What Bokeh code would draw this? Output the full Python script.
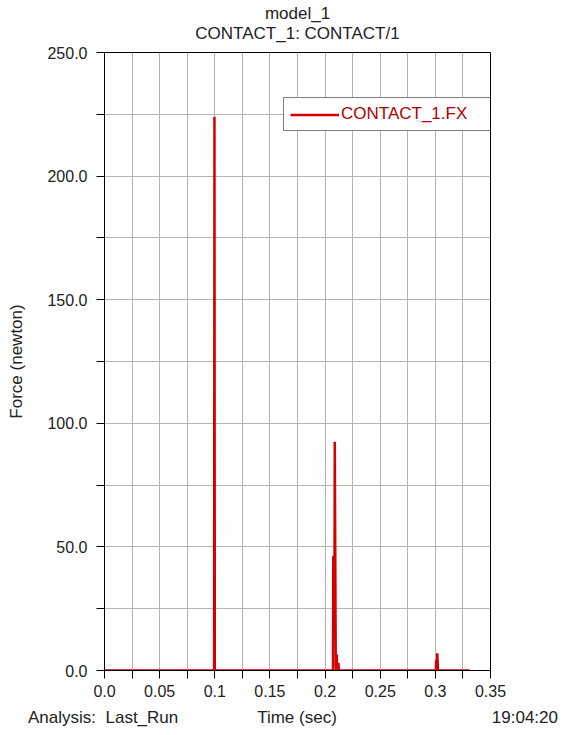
from bokeh.plotting import figure
from bokeh.models import Range1d, FixedTicker, Legend, LegendItem, Title, Div
from bokeh.layouts import column
from bokeh.embed import file_html
from bokeh.resources import INLINE

# ---- data ----
time = [0.0, 0.0994, 0.0997, 0.1000, 0.2072, 0.2074, 0.2086, 0.2088, 0.2097,
        0.2102, 0.2106, 0.2110, 0.2118, 0.2121, 0.2125, 0.3005, 0.3007,
        0.3015, 0.3017, 0.3024, 0.331]
force = [0, 0, 224, 0, 0, 46, 46, 92.5, 0, 0, 6.5, 0, 0, 3, 0, 0, 4, 4, 7, 0, 0]

x_ticks = [0.0, 0.05, 0.1, 0.15, 0.2, 0.25, 0.3, 0.35]
x_tick_labels = ["0.0", "0.05", "0.1", "0.15", "0.2", "0.25", "0.3", "0.35"]
x_minor = [0.025, 0.075, 0.125, 0.175, 0.225, 0.275, 0.325]
y_ticks = [0, 50, 100, 150, 200, 250]
y_tick_labels = ["0.0", "50.0", "100.0", "150.0", "200.0", "250.0"]
y_minor = [25, 75, 125, 175, 225]

footer_texts = ["Analysis:  Last_Run", "Time (sec)", "19:04:20"]

FONT = "Liberation Sans"
RED = "#d40000"
TXT = "#222222"

p = figure(width=560, height=706, output_backend="svg", toolbar_location=None,
           x_range=Range1d(0, 0.35), y_range=Range1d(0, 250),
           min_border_left=104, min_border_right=70, min_border_top=52,
           min_border_bottom=36)

p.title.text = "model_1"
p.title.align = "center"
p.title.text_font = FONT
p.title.text_font_size = "17px"
p.title.text_font_style = "normal"
p.title.text_color = TXT
p.title.standoff = -22
p.add_layout(Title(text="CONTACT_1: CONTACT/1", align="center", text_font=FONT,
                   text_font_size="17px", text_font_style="normal",
                   text_color=TXT, standoff=20), "above")

p.outline_line_color = "black"
p.outline_line_width = 1
p.background_fill_color = "white"
p.border_fill_color = "white"

for ax, ticks, minor, labels in ((p.xaxis[0], x_ticks, x_minor, x_tick_labels),
                                 (p.yaxis[0], y_ticks, y_minor, y_tick_labels)):
    ax.ticker = FixedTicker(ticks=ticks, minor_ticks=minor)
    ax.major_label_overrides = {t: l for t, l in zip(ticks, labels)}
    ax.major_tick_out = 8
    ax.major_tick_in = 0
    ax.minor_tick_out = 8
    ax.minor_tick_in = 0
    ax.axis_line_color = "black"
    ax.major_tick_line_color = "black"
    ax.minor_tick_line_color = "black"
    ax.major_label_text_font = FONT
    ax.major_label_text_font_size = "16px"
    ax.major_label_text_color = TXT

p.xaxis.major_label_standoff = 6
p.yaxis.major_label_standoff = 9
p.yaxis.axis_label = "Force (newton)"
p.yaxis.axis_label_text_font = FONT
p.yaxis.axis_label_text_font_size = "17px"
p.yaxis.axis_label_text_font_style = "normal"
p.yaxis.axis_label_text_color = TXT
p.yaxis.axis_label_standoff = 18

all_x = sorted(x_ticks + x_minor)
all_y = sorted(y_ticks + y_minor)
p.xgrid.ticker = FixedTicker(ticks=all_x)
p.ygrid.ticker = FixedTicker(ticks=all_y)
for g in (p.xgrid[0], p.ygrid[0]):
    g.grid_line_color = "#b4b4b4"
    g.grid_line_width = 1

r = p.line(time, force, line_color=RED, line_width=2.5)

legend = Legend(items=[LegendItem(label="CONTACT_1.FX", renderers=[r])],
                location=(179, 539))
legend.border_line_color = "black"
legend.border_line_width = 1
legend.background_fill_color = "white"
legend.background_fill_alpha = 1
legend.label_text_font = FONT
legend.label_text_font_size = "17px"
legend.label_text_color = "#b00000"
legend.glyph_width = 49
legend.glyph_height = 15
legend.label_height = 15
legend.label_width = 145
legend.label_standoff = 2
legend.padding = 6
legend.margin = 0
p.add_layout(legend)

# footer line: analysis name, x-axis title, time stamp
span = ("position:absolute;top:0;line-height:24px;white-space:pre;")
footer_html = (
    '<div style="position:relative;width:560px;height:24px;'
    f'font-family:\'{FONT}\';font-size:17px;color:{TXT};">'
    f'<span style="{span}left:28px;">{footer_texts[0]}</span>'
    f'<span style="{span}left:297px;transform:translateX(-50%);">{footer_texts[1]}</span>'
    f'<span style="{span}right:2px;">{footer_texts[2]}</span>'
    '</div>'
)
footer = Div(text=footer_html, width=560, height=24, margin=(0, 0, 0, 0))

layout = column(p, footer, spacing=0)
open("out.html", "w").write(file_html(layout, INLINE))
